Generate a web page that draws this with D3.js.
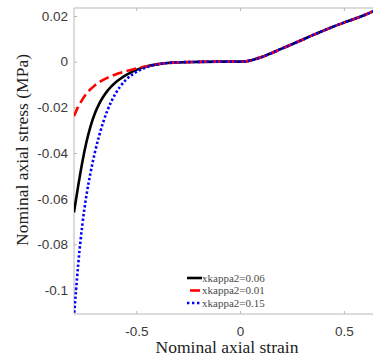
<!DOCTYPE html>
<html>
<head>
<meta charset="utf-8">
<script src="https://d3js.org/d3.v7.min.js"></script>
<style>
  body { margin: 0; background: #fff; }
</style>
</head>
<body>
<div id="chart"></div>
<script>
// data
const strainNeg = [-0.8, -0.78, -0.76, -0.74, -0.72, -0.7, -0.68, -0.66, -0.64, -0.62, -0.6, -0.58, -0.55, -0.5, -0.45, -0.4, -0.35, -0.3, -0.2, -0.1];
const strainPos = [0, 0.025, 0.05, 0.1, 0.15, 0.2, 0.25, 0.3, 0.35, 0.4, 0.45, 0.5, 0.55, 0.6, 0.65];
const stressPos = [0, 0.0001, 0.0005, 0.0019, 0.0037, 0.0057, 0.0076, 0.0096, 0.0116, 0.0135, 0.0154, 0.0171, 0.0187, 0.0204, 0.0224];

const stressK006 = [-0.066, -0.0545, -0.044, -0.0352, -0.0282, -0.0228, -0.0187, -0.0155, -0.0129, -0.0108, -0.0091, -0.0077, -0.0059, -0.0036, -0.0021, -0.0012, -0.0006, -0.0003, -0.0001, 0];
const stressK001 = [-0.0238, -0.0198, -0.0166, -0.014, -0.012, -0.0104, -0.0091, -0.008, -0.0071, -0.0063, -0.0056, -0.005, -0.0042, -0.003, -0.002, -0.0012, -0.0006, -0.0003, -0.0001, 0];
const stressK015 = [-0.112, -0.089, -0.0715, -0.0585, -0.0485, -0.04, -0.0328, -0.0267, -0.0216, -0.0174, -0.014, -0.0112, -0.008, -0.0045, -0.0024, -0.0012, -0.0006, -0.0003, -0.0001, 0];

const seriesNames = ['xkappa2=0.06', 'xkappa2=0.01', 'xkappa2=0.15'];
const seriesStress = [stressK006, stressK001, stressK015];
const xTicks = [-0.5, 0, 0.5];
const yTicks = [0.02, 0, -0.02, -0.04, -0.06, -0.08, -0.1];

const W = 373, H = 360;
const margin = {top: 8, left: 74, bottom: 46, right: -2};

const svg = d3.select('#chart').append('svg')
  .attr('width', W)
  .attr('height', H);

const x = d3.scaleLinear().domain([-0.8, 0.65]).range([margin.left, W - margin.right]);
const y = d3.scaleLinear().domain([-0.1105, 0.0235]).range([H - margin.bottom, margin.top]);

svg.append('clipPath').attr('id', 'clip')
  .append('rect')
  .attr('x', x.range()[0]).attr('y', y.range()[1])
  .attr('width', x.range()[1] - x.range()[0])
  .attr('height', y.range()[0] - y.range()[1]);

const axisCol = '#cfcfcf';
const labCol = '#3a3a3a';

// frame
svg.append('line').attr('x1', x.range()[0]).attr('x2', W).attr('y1', y.range()[1]).attr('y2', y.range()[1])
  .attr('stroke', axisCol).attr('stroke-width', 1.5);
svg.append('line').attr('x1', x.range()[0]).attr('x2', W).attr('y1', y.range()[0]).attr('y2', y.range()[0])
  .attr('stroke', axisCol).attr('stroke-width', 1.5);
svg.append('line').attr('x1', x.range()[0]).attr('x2', x.range()[0]).attr('y1', y.range()[1]).attr('y2', y.range()[0])
  .attr('stroke', axisCol).attr('stroke-width', 1.5);

// axes
const xAxis = svg.append('g').attr('transform', `translate(0,${y.range()[0]})`)
  .call(d3.axisBottom(x).tickValues(xTicks).tickSize(-3).tickPadding(8).tickFormat(d => d === 0 ? '0' : String(d)));
const xTop = svg.append('g').attr('transform', `translate(0,${y.range()[1]})`)
  .call(d3.axisTop(x).tickValues(xTicks).tickSize(-3).tickFormat(''));
const yAxis = svg.append('g').attr('transform', `translate(${x.range()[0]},0)`)
  .call(d3.axisLeft(y).tickValues(yTicks).tickSize(-3).tickPadding(6).tickFormat(d => d === 0 ? '0' : String(+d.toFixed(2))));

[xAxis, xTop, yAxis].forEach(g => {
  g.select('.domain').remove();
  g.selectAll('.tick line').attr('stroke', '#b8b8b8');
  g.selectAll('.tick text')
    .attr('fill', labCol)
    .style('font-family', '"Liberation Sans", Arial, sans-serif')
    .style('font-size', '13.5px');
});
xAxis.selectAll('.tick text').attr('dy', '1em');

// curves
const line = d3.line()
  .x(d => x(d[0]))
  .y(d => y(d[1]))
  .curve(d3.curveMonotoneX);

const styles = [
  {color: '#000000', dash: null},
  {color: '#ff0000', dash: '10,4.5'},
  {color: '#0000ff', dash: '2.4,2.2'}
];

const plot = svg.append('g').attr('clip-path', 'url(#clip)');
seriesStress.forEach(function(vals, i) {
  const pts = strainNeg.map((s, j) => [s, vals[j]])
    .concat(strainPos.map((s, j) => [s, stressPos[j]]));
  plot.append('path')
    .datum(pts)
    .attr('d', line)
    .attr('fill', 'none')
    .attr('stroke', styles[i].color)
    .attr('stroke-width', 2.6)
    .attr('stroke-dasharray', styles[i].dash);
});

// legend
const leg = svg.append('g').attr('transform', 'translate(187,278)');
seriesNames.forEach(function(name, i) {
  const row = leg.append('g').attr('transform', `translate(0,${i * 12.5})`);
  if (i === 1) {
    row.append('line').attr('x1', 3).attr('x2', 13).attr('y1', 0).attr('y2', 0)
      .attr('stroke', styles[i].color).attr('stroke-width', 2.6);
  } else {
    row.append('line').attr('x1', 0).attr('x2', 15).attr('y1', 0).attr('y2', 0)
      .attr('stroke', styles[i].color).attr('stroke-width', 2.6)
      .attr('stroke-dasharray', i === 2 ? '2.4,2.6' : null);
  }
  row.append('text')
    .attr('x', 15).attr('y', 3.5)
    .attr('fill', '#4a4a4a')
    .style('font-family', '"Liberation Serif", "Times New Roman", serif')
    .style('font-size', '11px')
    .text(name);
});

// axis titles
svg.append('text')
  .attr('x', 227).attr('y', 353)
  .attr('text-anchor', 'middle')
  .attr('fill', '#222')
  .style('font-family', '"Liberation Serif", "Times New Roman", serif')
  .style('font-size', '17.5px')
  .text('Nominal axial strain');

svg.append('text')
  .attr('transform', 'translate(28,150) rotate(-90)')
  .attr('text-anchor', 'middle')
  .attr('fill', '#222')
  .style('font-family', '"Liberation Serif", "Times New Roman", serif')
  .style('font-size', '17.5px')
  .text('Nominal axial stress (MPa)');
</script>
</body>
</html>
